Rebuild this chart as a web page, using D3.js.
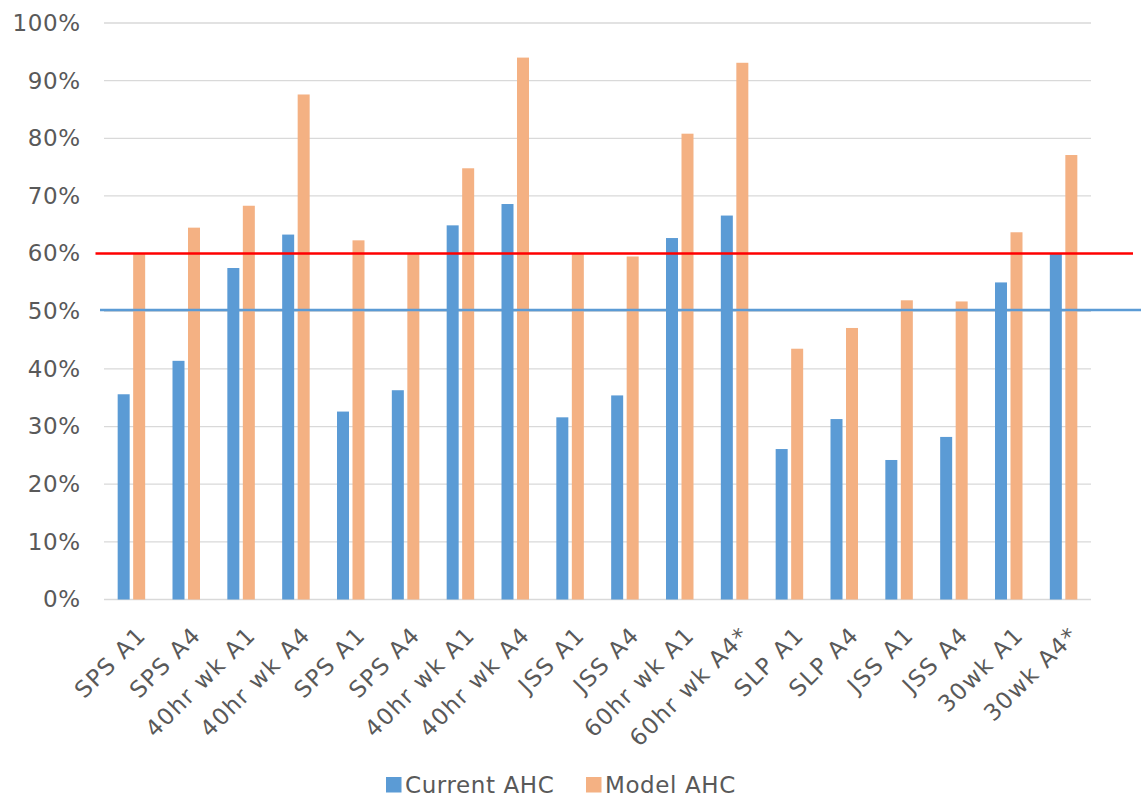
<!DOCTYPE html>
<html>
<head>
<meta charset="utf-8">
<script src="https://cdn.jsdelivr.net/npm/d3@7"></script>
<style>
  html, body { margin: 0; padding: 0; background: #ffffff; }
  svg { display: block; }
  text { font-family: "DejaVu Sans", Verdana, sans-serif; fill: #595959; }
</style>
</head>
<body>
<svg id="chart" width="1141" height="796"></svg>
<script>
// Sites / scenarios along the x axis (labels repeat, so bars are keyed by index)
const categories = [
  "SPS A1", "SPS A4", "40hr wk A1", "40hr wk A4", "SPS A1", "SPS A4",
  "40hr wk A1", "40hr wk A4", "JSS A1", "JSS A4", "60hr wk A1", "60hr wk A4*",
  "SLP A1", "SLP A4", "JSS A1", "JSS A4", "30wk A1", "30wk A4*"
];
const seriesNames = ["Current AHC", "Model AHC"];
const currentAHC = [0.356, 0.414, 0.575, 0.633, 0.326, 0.363, 0.649, 0.686, 0.316,
                    0.354, 0.627, 0.666, 0.261, 0.313, 0.242, 0.282, 0.550, 0.601];
const modelAHC   = [0.600, 0.645, 0.683, 0.876, 0.623, 0.600, 0.748, 0.940, 0.600,
                    0.595, 0.808, 0.931, 0.435, 0.471, 0.519, 0.517, 0.637, 0.771];
const yTicks = [0, 0.1, 0.2, 0.3, 0.4, 0.5, 0.6, 0.7, 0.8, 0.9, 1.0];
// Threshold lines
const targetLevel = 0.60;
const baselineLevel = 0.502;

const colors = { "Current AHC": "#5b9bd5", "Model AHC": "#f4b183" };
const fontSize = "23px";
const spacing = 0.6;
const xLabelSpacing = 1.4;

const svg = d3.select("#chart");
const plot = { left: 104, right: 1091, top: 23, bottom: 599.5 };

const x = d3.scaleBand()
  .domain(d3.range(categories.length))
  .range([plot.left, plot.right])
  .paddingInner(0).paddingOuter(0);

// Two narrow bars per category, 12px wide with a small gap
const barW = 12, barGap = 3.5, step = barW + barGap;
const pInner = barGap / step;
const pOuter = (x.bandwidth() / step - 2 + pInner) / 2;
const x1 = d3.scaleBand()
  .domain(seriesNames)
  .range([0, x.bandwidth()])
  .paddingInner(pInner).paddingOuter(pOuter);

const y = d3.scaleLinear().domain([0, 1]).range([plot.bottom, plot.top]);

// Horizontal gridlines
svg.append("g")
  .selectAll("line")
  .data(yTicks)
  .join("line")
  .attr("x1", plot.left).attr("x2", plot.right)
  .attr("y1", d => y(d)).attr("y2", d => y(d))
  .attr("stroke", "#d9d9d9")
  .attr("stroke-width", 1.3);

// Y axis labels
const yAxis = d3.axisLeft(y).tickValues(yTicks).tickFormat(d3.format(".0%"))
  .tickSize(0).tickPadding(24 - spacing);
const gy = svg.append("g").attr("transform", `translate(${plot.left},0)`).call(yAxis);
gy.select(".domain").remove();
gy.selectAll("text")
  .style("font-family", '"DejaVu Sans", Verdana, sans-serif')
  .style("font-size", fontSize)
  .style("letter-spacing", spacing + "px")
  .attr("fill", "#595959");

// Bars
const rows = categories.map((c, i) => ({ i, values: [
  { key: "Current AHC", v: currentAHC[i] },
  { key: "Model AHC", v: modelAHC[i] }
]}));

svg.append("g")
  .selectAll("g")
  .data(rows)
  .join("g")
  .attr("transform", d => `translate(${x(d.i)},0)`)
  .selectAll("rect")
  .data(d => d.values)
  .join("rect")
  .attr("x", d => x1(d.key))
  .attr("width", x1.bandwidth())
  .attr("y", d => y(d.v))
  .attr("height", d => y(0) - y(d.v))
  .attr("fill", d => colors[d.key]);

// Threshold lines drawn across the chart
svg.append("line")
  .attr("x1", 100).attr("x2", 1141)
  .attr("y1", y(baselineLevel)).attr("y2", y(baselineLevel))
  .attr("stroke", "#5b9bd5").attr("stroke-width", 2.5);
svg.append("line")
  .attr("x1", 95.5).attr("x2", 1133)
  .attr("y1", y(targetLevel)).attr("y2", y(targetLevel))
  .attr("stroke", "#ff0000").attr("stroke-width", 2.5);

// X axis labels, rotated -45 degrees, ending just under each category
const xAxis = d3.axisBottom(x).tickFormat(i => categories[i]).tickSize(0).tickPadding(0);
const gx = svg.append("g").attr("transform", `translate(0,${plot.bottom})`).call(xAxis);
gx.select(".domain").remove();
gx.selectAll("text")
  .style("font-family", '"DejaVu Sans", Verdana, sans-serif')
  .style("font-size", fontSize)
  .style("letter-spacing", xLabelSpacing + "px")
  .attr("fill", "#595959")
  .attr("text-anchor", "end")
  .attr("dy", null)
  .attr("y", 0)
  .attr("transform", "translate(16,37) rotate(-45)");

// Legend
const legend = svg.append("g");
const legendItems = [
  { key: "Current AHC", x: 386 },
  { key: "Model AHC", x: 586 }
];
const lg = legend.selectAll("g").data(legendItems).join("g")
  .attr("transform", d => `translate(${d.x},777)`);
lg.append("rect").attr("width", 15.5).attr("height", 15.5).attr("fill", d => colors[d.key]);
lg.append("text")
  .attr("x", 19).attr("y", 15.5)
  .style("font-size", fontSize)
  .style("letter-spacing", spacing + "px")
  .text(d => d.key);
</script>
</body>
</html>
